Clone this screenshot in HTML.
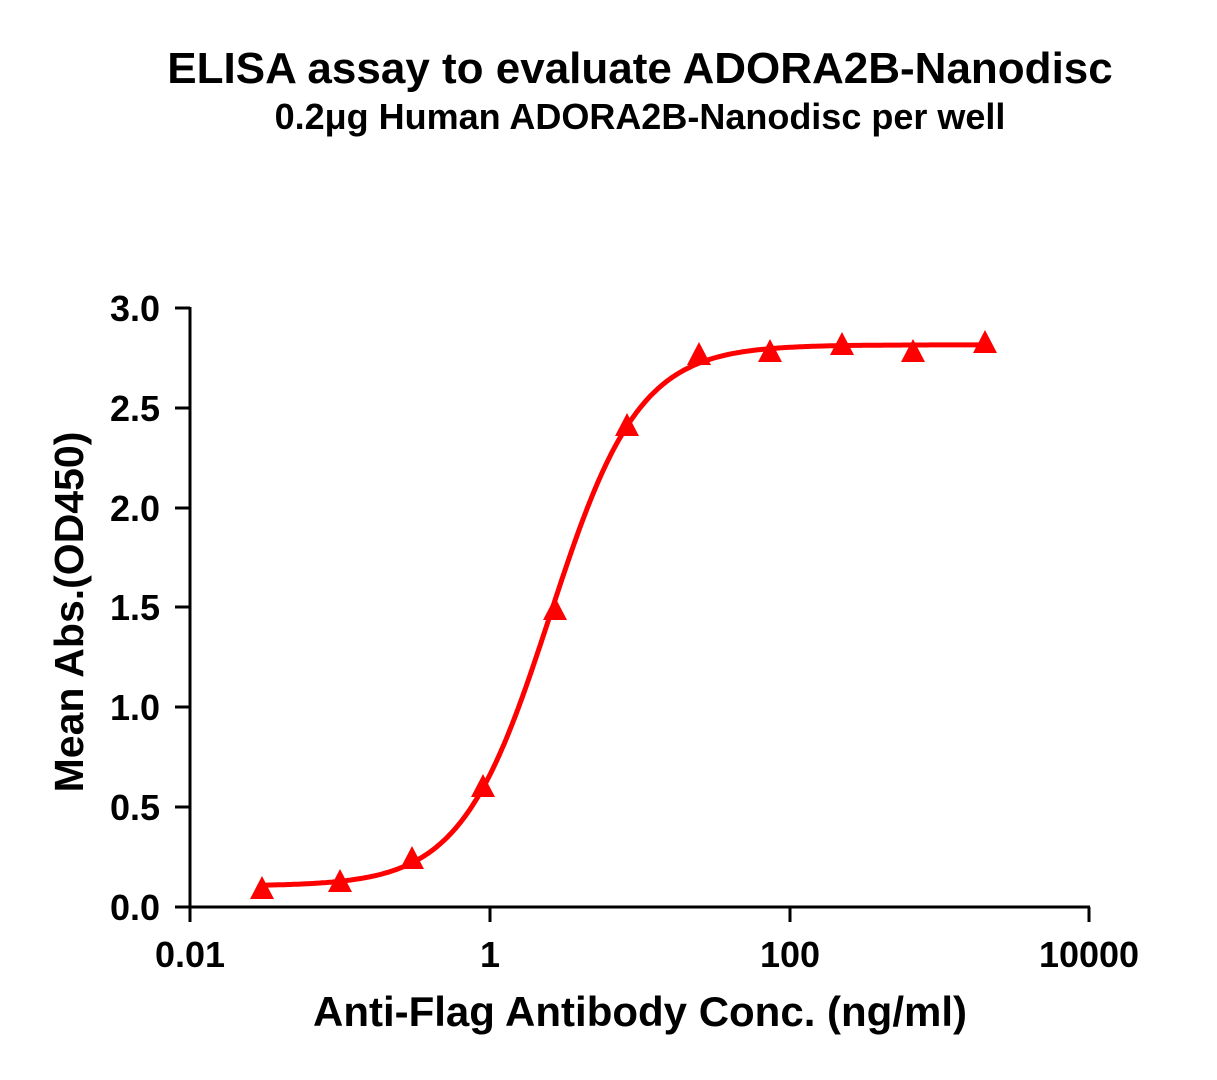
<!DOCTYPE html>
<html><head><meta charset="utf-8"><style>body{margin:0;background:#fff}</style></head>
<body>
<svg width="1217" height="1075" xmlns="http://www.w3.org/2000/svg" font-family="Liberation Sans, sans-serif" font-weight="bold">
<rect width="1217" height="1075" fill="#fff"/>
<text x="640" y="83" font-size="44" text-anchor="middle">ELISA assay to evaluate ADORA2B-Nanodisc</text>
<text x="640" y="129" font-size="36" text-anchor="middle">0.2μg Human ADORA2B-Nanodisc per well</text>
<g stroke="#000" stroke-width="3" fill="none">
<path d="M190,307 V907 H1090"/>
<path d="M175,308 H190 M175,408 H190 M175,508 H190 M175,607 H190 M175,707 H190 M175,807 H190 M175,907 H190"/>
<path d="M190,907 V922 M490,907 V922 M790,907 V922 M1089,907 V922"/>
</g>
<g font-size="36" text-anchor="end">
<text x="160" y="920">0.0</text><text x="160" y="820">0.5</text><text x="160" y="720">1.0</text>
<text x="160" y="620">1.5</text><text x="160" y="521">2.0</text><text x="160" y="421">2.5</text><text x="160" y="321">3.0</text>
</g>
<g font-size="36" text-anchor="middle">
<text x="190" y="967">0.01</text><text x="490" y="967">1</text><text x="790" y="967">100</text><text x="1089" y="967">10000</text>
</g>
<text x="640" y="1026" font-size="42" text-anchor="middle">Anti-Flag Antibody Conc. (ng/ml)</text>
<text transform="translate(83,612) rotate(-90)" font-size="41" text-anchor="middle">Mean Abs.(OD450)</text>
<path id="c" fill="none" stroke="#f00" stroke-width="5"/>
<g fill="#f00">
<polygon points="250,899 274,899 262,876"/>
<polygon points="328,892 352,892 340,869"/>
<polygon points="400,869 424,869 412,846"/>
<polygon points="471,797 495,797 483,774"/>
<polygon points="543,620 567,620 555,597"/>
<polygon points="615,436 639,436 627,413"/>
<polygon points="687,365 711,365 699,342"/>
<polygon points="758,362 782,362 770,339"/>
<polygon points="830,355 854,355 842,332"/>
<polygon points="901,362 925,362 913,339"/>
<polygon points="973,353 997,353 985,330"/>
</g>
<script>
var d="";for(var x=262;x<=985;x+=2){var f=1/(1+Math.exp(-0.0225*(x-550)));var v=0.105+2.71*f;var y=907-199.7*v;d+=(x==262?"M":"L")+x+","+y.toFixed(1);}
document.getElementById("c").setAttribute("d",d);
</script>
</svg>
</body></html>
